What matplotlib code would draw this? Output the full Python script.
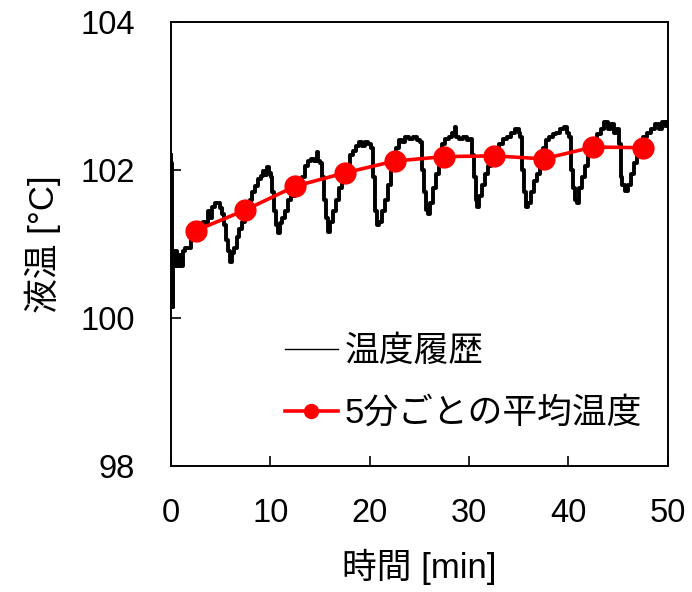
import matplotlib
matplotlib.use("Agg")
from matplotlib import pyplot as plt
from matplotlib.lines import Line2D

plt.rcParams['font.family'] = ['Liberation Sans', 'Noto Sans CJK JP']

# temperature history (min, deg C)
trace_t = [0.0, 0.05, 0.1, 0.15, 0.2, 0.25, 0.35, 0.5, 0.6, 0.8, 1.0, 1.2, 1.4, 1.7,
           2.0, 2.3, 2.6, 2.9, 3.2, 3.5, 3.7, 3.9, 4.1, 4.4, 4.7, 4.9, 5.1, 5.3, 5.5,
           5.7, 5.9, 6.1, 6.3, 6.6, 6.9, 7.2, 7.5, 7.8, 8.0, 8.2, 8.5, 8.8, 9.1, 9.3,
           9.5, 9.7, 9.9, 10.05,
           10.2, 10.4, 10.6, 10.75, 10.95, 11.2, 11.5, 11.8, 12.1, 12.5, 12.9, 13.2,
           13.5, 13.8, 14.1, 14.4, 14.7, 14.8, 15.0, 15.2, 15.4, 15.6, 15.8, 16.0,
           16.3, 16.6, 16.9, 17.2, 17.5, 17.8, 18.0, 18.3, 18.6, 18.9, 19.2, 19.5,
           19.8, 20.1,
           20.3, 20.5, 20.7, 20.9, 21.2, 21.5, 21.8, 22.1, 22.4, 22.7, 23.0, 23.3,
           23.6, 24.0, 24.4, 24.8, 25.1, 25.3, 25.5, 25.7, 25.85, 26.1, 26.4, 26.7,
           27.0, 27.3, 27.6, 28.0, 28.3, 28.55, 28.7, 29.0, 29.4, 29.8, 30.1,
           30.3, 30.5, 30.7, 30.85, 31.0, 31.3, 31.6, 31.9, 32.2, 32.6, 33.0, 33.4,
           33.8, 34.2, 34.6, 35.0, 35.15, 35.3, 35.5, 35.75, 35.95, 36.2, 36.5, 36.8,
           37.1, 37.4, 37.7, 38.0, 38.4, 38.8, 39.2, 39.6, 39.9, 40.1,
           40.3, 40.5, 40.7, 40.9, 41.1, 41.4, 41.7, 42.0, 42.3, 42.6, 42.9, 43.3,
           43.6, 44.0, 44.3, 44.6, 44.9, 45.1, 45.25, 45.4, 45.7, 46.0, 46.3, 46.6,
           46.9, 47.2, 47.5, 47.9, 48.3, 48.7, 49.1, 49.4, 49.7, 49.9]
trace_temp = [102.2, 102.1, 100.2, 100.6, 100.15, 100.9, 100.7, 100.9, 100.7, 100.85,
              100.7, 100.9, 100.95, 100.95, 101.05, 101.1, 101.15, 101.25, 101.3,
              101.25, 101.45, 101.35, 101.5, 101.55, 101.55, 101.48, 101.4, 101.25,
              101.05, 100.9, 100.76, 100.88, 100.95, 101.1, 101.2, 101.3, 101.4,
              101.5, 101.6, 101.7, 101.78, 101.88, 101.92, 101.98, 101.93, 102.04,
              101.96, 101.9,
              101.7, 101.45, 101.25, 101.15, 101.28, 101.35, 101.45, 101.6, 101.65,
              101.7, 101.8, 101.9, 102.05, 102.12, 102.15, 102.12, 102.24, 102.12,
              102.1, 101.9, 101.6, 101.35, 101.16, 101.3, 101.45, 101.6, 101.75,
              101.88, 101.93, 102.05, 102.2, 102.25, 102.32, 102.38, 102.33, 102.38,
              102.35, 102.3,
              101.9, 101.45, 101.26, 101.3, 101.45, 101.6, 101.8, 102.0, 102.15,
              102.3, 102.4, 102.38, 102.45, 102.42, 102.45, 102.4, 102.38, 102.0,
              101.7, 101.46, 101.4, 101.55, 101.75, 101.95, 102.15, 102.35, 102.42,
              102.45, 102.5, 102.58, 102.45, 102.42, 102.45, 102.4, 102.42,
              102.2, 101.9, 101.6, 101.5, 101.65, 101.8, 101.95, 102.05, 102.15,
              102.25, 102.35, 102.42, 102.45, 102.5, 102.55, 102.5, 102.45, 102.0,
              101.7, 101.5, 101.55, 101.7, 101.85, 101.95, 102.1, 102.3, 102.4,
              102.45, 102.48, 102.5, 102.55, 102.58, 102.5, 102.45,
              102.0, 101.75, 101.6, 101.55, 101.75, 101.9, 102.05, 102.2, 102.35,
              102.4, 102.48, 102.55, 102.65, 102.55, 102.62, 102.5, 102.55, 102.35,
              101.9, 101.8, 101.72, 101.8, 101.95, 102.1, 102.25, 102.35, 102.45,
              102.5, 102.55, 102.62, 102.55, 102.65, 102.6, 102.65]

# 5-minute averages
avg_t = [2.5, 7.5, 12.5, 17.5, 22.5, 27.5, 32.5, 37.5, 42.5, 47.5]
avg_temp = [101.18, 101.46, 101.78, 101.96, 102.12, 102.18, 102.19, 102.15, 102.31, 102.30]

fig = plt.figure(figsize=(6.92, 5.92), dpi=100)
ax = fig.add_axes([0.247, 0.2128, 0.718, 0.7502])

ax.plot(trace_t, trace_temp, color='black', lw=2.8, drawstyle='steps-post')
ax.plot(avg_t, avg_temp, color='#ff0000', lw=2.6, marker='o', ms=15)

ax.set_xlim(0, 50)
ax.set_ylim(98, 104)
ax.set_xticks(range(0, 51, 10))
ax.set_yticks([98, 100, 102, 104])
ax.tick_params(axis='both', direction='in', length=7, width=1.2, labelsize=23.5)
ax.tick_params(axis='y', pad=26)
ax.tick_params(axis='x', pad=23)
for s in ax.spines.values():
    s.set_linewidth(1.4)

ax.set_xlabel("時間 [min]", fontsize=25, labelpad=14)
ax.set_ylabel("液温 [°C]", fontsize=25, labelpad=14)

handles = [Line2D([], [], color='black', lw=1.0),
           Line2D([], [], color='#ff0000', lw=2.6, marker='o', ms=10)]
ax.legend(handles, ["温度履歴", "5分ごとの平均温度"], loc='upper left',
          bbox_to_anchor=(0.229, 0.294), frameon=False, fontsize=25,
          handlelength=1.53, handletextpad=0.2, labelspacing=0.82,
          borderpad=0, borderaxespad=0)

fig.savefig("out.png", dpi=100)
